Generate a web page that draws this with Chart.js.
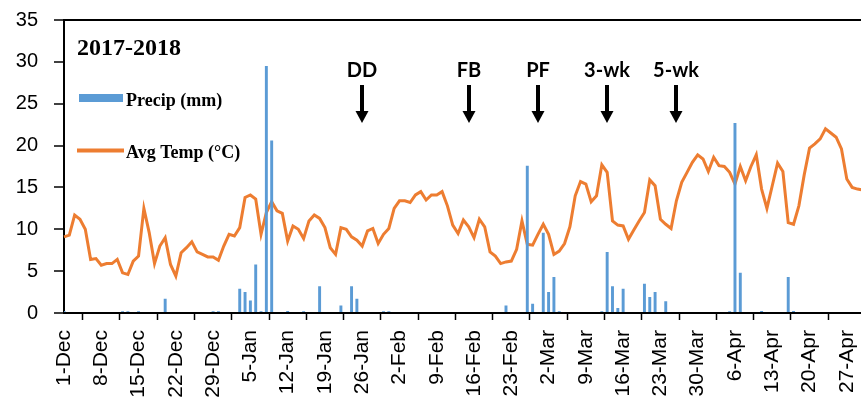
<!DOCTYPE html>
<html>
<head>
<meta charset="utf-8">
<script src="https://cdn.jsdelivr.net/npm/chart.js@4.4.1/dist/chart.umd.min.js"></script>
<style>
html,body{margin:0;padding:0;background:#fff;overflow:hidden;}
#wrap{position:relative;width:882px;height:420px;}
</style>
</head>
<body>
<div id="wrap"><canvas id="chart"></canvas></div>
<script>
const MONTHS = ['Jan','Feb','Mar','Apr','May','Jun','Jul','Aug','Sep','Oct','Nov','Dec'];
const START = new Date(2017, 11, 1);
const NUM_DAYS = 151; // 1-Dec-2017 .. 30-Apr-2018

const tickLabels = ['1-Dec','8-Dec','15-Dec','22-Dec','29-Dec','5-Jan','12-Jan','19-Jan','26-Jan',
  '2-Feb','9-Feb','16-Feb','23-Feb','2-Mar','9-Mar','16-Mar','23-Mar','30-Mar','6-Apr','13-Apr','20-Apr','27-Apr'];

// daily precip (mm)
const precip = [
  0.25,0,0,0,0,0,0,0,0,0,
  0,0.2,0.2,0,0.2,0,0,0,0,1.7,
  0,0,0,0,0,0,0,0,0.2,0.2,
  0,0,0,2.9,2.5,1.5,5.8,0.2,29.5,20.6,
  0,0,0.25,0,0,0.2,0,0,3.2,0,
  0,0,0.9,0,3.2,1.7,0,0,0,0,
  0.2,0.2,0,0,0,0,0,0,0,0,
  0,0,0,0,0,0,0,0,0,0,
  0,0,0,0.9,0,0,0,17.6,1.1,0,
  9.6,2.5,4.3,0.2,0,0,0,0,0,0,
  0,0.2,7.3,3.2,0.6,2.9,0,0,0,3.5,
  1.9,2.5,0,1.4,0,0,0,0,0,0,
  0,0,0,0,0,0.2,22.7,4.8,0,0,
  0,0.25,0,0,0,0,4.3,0.25,0,0,
  0,0,0,0,0,0,0,0,0,0,
  0
];

// daily average temperature (°C)
const avgTemp = [
  9.1,9.3,11.7,11.2,10.0,6.4,6.5,5.7,5.9,5.9,
  6.4,4.8,4.6,6.2,6.8,12.5,9.6,5.9,8.0,9.0,
  5.8,4.4,7.2,7.8,8.5,7.3,7.0,6.7,6.7,6.3,
  8.0,9.4,9.2,10.2,13.8,14.1,13.6,9.4,12.0,13.3,
  12.2,11.9,8.6,10.4,10.0,8.9,11.0,11.7,11.3,10.2,
  7.8,7.0,10.2,10.0,9.1,8.7,8.0,9.8,10.1,8.3,
  9.4,10.1,12.5,13.4,13.4,13.2,14.1,14.5,13.5,14.1,
  14.1,14.5,12.8,10.5,9.5,11.1,10.3,9.0,11.2,10.3,
  7.3,6.8,5.9,6.1,6.2,7.6,11.0,8.2,8.1,9.4,
  10.6,9.4,7.0,7.4,8.3,10.3,14.0,15.7,15.4,13.3,
  14.0,17.7,16.8,11.0,10.5,10.4,8.8,9.9,11.0,12.0,
  15.9,15.2,11.2,10.6,10.1,13.4,15.6,16.8,18.0,18.9,
  18.4,16.9,18.6,17.6,17.5,16.8,15.4,17.5,15.8,17.5,
  18.9,14.8,12.5,15.2,17.9,16.9,10.8,10.6,12.8,16.5,
  19.7,20.2,20.8,22.0,21.5,21.0,19.6,16.0,15.0,14.8,
  14.7
];

const eventLabels = ['DD','FB','PF','3-wk','5-wk'];
const eventDays = ['26-Jan','15-Feb','28-Feb','13-Mar','26-Mar'];

const dayLabels = [];
for (let i = 0; i < NUM_DAYS; i++) {
  const d = new Date(START.getFullYear(), START.getMonth(), START.getDate() + i);
  dayLabels.push(d.getDate() + '-' + MONTHS[d.getMonth()]);
}

const BLUE = '#5B9BD5';
const ORANGE = '#ED7D31';
const CHART_BOTTOM = 313;
const WRAP_H = 420;

// title, in-plot legend and the event arrows
const overlay = {
  id: 'overlay',
  afterDatasetsDraw(chart) {
    const ctx = chart.ctx;
    const xs = chart.scales.x;
    ctx.save();
    ctx.fillStyle = '#000';
    ctx.textBaseline = 'alphabetic';
    ctx.textAlign = 'left';
    ctx.font = 'bold 24px "Liberation Serif"';
    ctx.fillText('2017-2018', 77, 55);

    ctx.fillStyle = BLUE;
    ctx.fillRect(79, 94, 44, 8);
    ctx.strokeStyle = ORANGE;
    ctx.lineWidth = 4;
    ctx.beginPath(); ctx.moveTo(77, 150.5); ctx.lineTo(124, 150.5); ctx.stroke();
    ctx.fillStyle = '#000';
    ctx.font = 'bold 18px "Liberation Serif"';
    ctx.fillText('Precip (mm)', 126, 106);
    ctx.fillText('Avg Temp (\u00B0C)', 126, 158);

    ctx.font = 'bold 20px Lato';
    ctx.textAlign = 'center';
    eventLabels.forEach((lab, i) => {
      const x = Math.round(xs.getPixelForValue(dayLabels.indexOf(eventDays[i])));
      ctx.fillStyle = '#000';
      ctx.fillText(lab, x, 77);
      ctx.fillRect(x - 2, 85, 4, 27);
      ctx.beginPath();
      ctx.moveTo(x - 6.5, 111); ctx.lineTo(x + 6.5, 111); ctx.lineTo(x, 123);
      ctx.closePath(); ctx.fill();
    });
    ctx.restore();
  }
};

new Chart(document.getElementById('chart'), {
  type: 'bar',
  data: {
    labels: dayLabels,
    datasets: [
      {label: 'Precip (mm)', data: precip, backgroundColor: BLUE, barPercentage: 0.55, categoryPercentage: 1, order: 0},
      {type: 'line', label: 'Avg Temp (\u00B0C)', data: avgTemp, borderColor: ORANGE, borderWidth: 3,
       pointRadius: 0, tension: 0, order: 1}
    ]
  },
  options: {
    responsive: true,
    maintainAspectRatio: false,
    animation: false,
    layout: {padding: {top: 20, left: 0, right: 0, bottom: 0}},
    plugins: {legend: {display: false}, tooltip: {enabled: false}},
    scales: {
      x: {
        offset: false,
        grid: {display: true, drawOnChartArea: false, tickColor: '#000', tickLength: 7, tickWidth: 1.5},
        border: {color: '#000', width: 2},
        ticks: {
          autoSkip: false, minRotation: 90, maxRotation: 90, padding: 10,
          color: '#000', font: {family: 'Liberation Sans', size: 21},
          callback: function(v, i) { return tickLabels.includes(dayLabels[i]) ? dayLabels[i] : null; }
        },
        afterFit: s => { s.height = WRAP_H - CHART_BOTTOM; }
      },
      y: {
        min: 0, max: 35,
        grid: {
          drawOnChartArea: true, tickLength: 10, tickColor: '#000', tickWidth: 1.5, lineWidth: 2,
          color: c => (c.tick && c.tick.value === 35) ? '#000' : 'rgba(0,0,0,0)'
        },
        border: {color: '#000', width: 2},
        ticks: {stepSize: 5, padding: 16, color: '#000', font: {family: 'Liberation Sans', size: 20}},
        afterFit: s => { s.width = 64; s.paddingTop = 10; s.paddingBottom = 0; }
      }
    }
  },
  plugins: [overlay]
});
</script>
</body>
</html>
